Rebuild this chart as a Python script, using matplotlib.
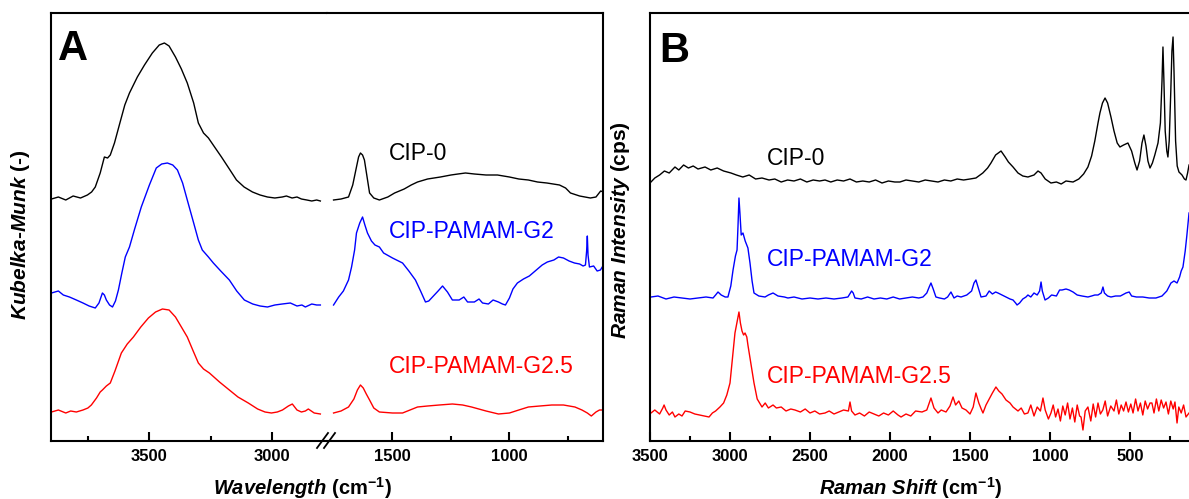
import numpy as np
import matplotlib
matplotlib.use('Agg')
import matplotlib.pyplot as plt
from matplotlib.lines import Line2D

plt.rcParams['font.family'] = ['Liberation Sans', 'DejaVu Sans']
plt.rcParams['mathtext.fontset'] = 'custom'
plt.rcParams['mathtext.rm'] = 'Liberation Sans'
plt.rcParams['mathtext.bf'] = 'Liberation Sans:bold'
plt.rcParams['mathtext.it'] = 'Liberation Sans:italic'
plt.rcParams['mathtext.bfit'] = 'Liberation Sans:italic:bold'

# ---- panel A: DRIFT (Kubelka-Munk), values in arbitrary units ----
ir_cip0 = np.array([
    (3898, 242), (3870, 244), (3840, 241), (3810, 245), (3780, 243), (3752, 246), (3735, 249),
    (3720, 254), (3700, 268), (3683, 284), (3670, 283), (3659, 286), (3642, 298), (3620, 318),
    (3600, 336), (3581, 348), (3549, 364), (3520, 376), (3488, 388), (3460, 396), (3439, 398),
    (3420, 395), (3394, 384), (3370, 372), (3346, 358), (3320, 338), (3301, 318), (3280, 308),
    (3260, 303), (3235, 294), (3207, 284), (3175, 272), (3146, 261), (3115, 254), (3081, 249),
    (3050, 246), (3020, 244), (2990, 243), (2960, 244), (2943, 245), (2920, 243), (2900, 244),
    (2882, 242), (2860, 241), (2840, 240), (2820, 241), (2805, 240),
    (1752, 241), (1720, 242), (1688, 244), (1670, 256), (1654, 274), (1645, 284), (1637, 288),
    (1628, 286), (1620, 281), (1610, 266), (1598, 248), (1580, 243), (1556, 241), (1520, 244),
    (1491, 248), (1450, 252), (1420, 256), (1393, 259), (1350, 262), (1295, 264), (1250, 266),
    (1220, 267), (1188, 268), (1150, 267), (1100, 266), (1051, 266), (1000, 264), (960, 262),
    (919, 261), (880, 259), (840, 258), (786, 256), (760, 253), (739, 248), (700, 245),
    (654, 243), (630, 244), (610, 250), (598, 249)])

ir_g2 = np.array([
    (3898, 148), (3870, 150), (3850, 146), (3825, 144), (3797, 141), (3770, 138), (3745, 135),
    (3720, 133), (3705, 138), (3691, 148), (3683, 146), (3675, 141), (3662, 136), (3650, 134),
    (3638, 140), (3626, 151), (3612, 168), (3598, 184), (3581, 194), (3560, 212), (3533, 234),
    (3500, 256), (3472, 273), (3450, 277), (3427, 278), (3405, 276), (3386, 271), (3365, 258),
    (3346, 241), (3320, 218), (3301, 201), (3285, 191), (3260, 184), (3240, 178), (3210, 170),
    (3175, 161), (3145, 150), (3114, 141), (3080, 137), (3050, 135), (3020, 134), (2990, 136),
    (2960, 137), (2927, 138), (2900, 135), (2880, 136), (2866, 134), (2840, 137), (2820, 136),
    (2805, 136),
    (1752, 136), (1730, 144), (1710, 150), (1688, 161), (1675, 174), (1662, 191), (1654, 208),
    (1640, 218), (1628, 224), (1618, 216), (1607, 208), (1590, 200), (1575, 196), (1556, 194),
    (1538, 188), (1500, 183), (1457, 178), (1430, 170), (1402, 161), (1380, 150), (1359, 139),
    (1345, 140), (1329, 144), (1305, 150), (1286, 155), (1265, 149), (1244, 141), (1215, 141),
    (1195, 144), (1179, 139), (1150, 139), (1130, 142), (1115, 138), (1090, 137), (1070, 141),
    (1047, 139), (1030, 137), (1017, 136), (1000, 143), (985, 152), (966, 158), (940, 162),
    (915, 165), (885, 171), (860, 176), (838, 179), (810, 181), (790, 184), (769, 183),
    (745, 180), (722, 178), (700, 177), (685, 175), (675, 176), (670, 190), (667, 205),
    (664, 186), (658, 174), (640, 175), (625, 170), (611, 171), (598, 176)])

ir_g25 = np.array([
    (3898, 29), (3870, 31), (3840, 28), (3820, 30), (3797, 29), (3770, 31), (3750, 33),
    (3736, 36), (3715, 43), (3700, 49), (3691, 51), (3675, 55), (3659, 58), (3640, 70),
    (3614, 88), (3590, 97), (3565, 104), (3535, 114), (3504, 123), (3475, 129), (3447, 132),
    (3420, 131), (3394, 124), (3370, 114), (3346, 104), (3322, 90), (3301, 78), (3280, 72),
    (3256, 68), (3215, 59), (3175, 51), (3140, 44), (3098, 38), (3060, 32), (3030, 29),
    (3004, 28), (2980, 29), (2959, 31), (2935, 35), (2919, 37), (2900, 31), (2882, 29),
    (2866, 30), (2854, 32), (2830, 28), (2805, 27),
    (1752, 28), (1720, 30), (1688, 34), (1665, 42), (1650, 51), (1637, 56), (1625, 53),
    (1612, 47), (1598, 41), (1580, 33), (1556, 29), (1500, 28), (1457, 28), (1425, 31),
    (1393, 34), (1350, 35), (1300, 36), (1244, 37), (1200, 36), (1162, 34), (1100, 30),
    (1047, 27), (1000, 28), (960, 31), (919, 34), (870, 35), (819, 36), (769, 36), (720, 34),
    (690, 31), (667, 28), (650, 25), (630, 29), (615, 31), (598, 31)])

# ---- panel B: Raman, values in arbitrary units ----
ra_cip0 = np.array([
    (3494, 259), (3470, 263), (3440, 266), (3410, 270), (3380, 268), (3344, 274), (3320, 271),
    (3290, 276), (3260, 273), (3230, 275), (3200, 272), (3156, 274), (3120, 271), (3080, 273),
    (3040, 270), (2994, 268), (2960, 266), (2920, 264), (2880, 266), (2840, 262), (2800, 263),
    (2756, 261), (2720, 262), (2680, 259), (2640, 261), (2600, 260), (2560, 262), (2520, 259),
    (2480, 261), (2440, 260), (2406, 261), (2370, 259), (2330, 261), (2290, 260), (2250, 262),
    (2210, 259), (2170, 260), (2130, 259), (2090, 261), (2050, 258), (2010, 260), (1970, 259),
    (1938, 259), (1900, 261), (1860, 260), (1820, 259), (1780, 261), (1740, 260), (1700, 259),
    (1660, 261), (1620, 260), (1580, 262), (1540, 261), (1500, 262), (1463, 263), (1420, 268),
    (1390, 273), (1369, 278), (1340, 286), (1306, 290), (1280, 284), (1260, 279), (1231, 274),
    (1200, 268), (1170, 265), (1138, 264), (1100, 266), (1075, 270), (1056, 268), (1030, 262),
    (994, 258), (960, 259), (930, 257), (900, 260), (856, 259), (820, 262), (790, 267),
    (763, 274), (740, 285), (720, 300), (700, 318), (688, 328), (672, 338), (656, 343),
    (640, 338), (619, 324), (600, 310), (580, 298), (563, 294), (540, 296), (513, 298),
    (490, 290), (470, 278), (456, 271), (440, 280), (425, 298), (413, 306), (400, 295),
    (388, 280), (375, 273), (360, 278), (345, 286), (325, 298), (310, 318), (300, 360),
    (294, 394), (288, 360), (280, 310), (270, 290), (263, 284), (255, 300), (245, 350),
    (238, 390), (231, 404), (225, 370), (215, 300), (205, 275), (194, 269), (175, 266),
    (160, 262), (150, 261), (140, 268), (131, 276)])

ra_g2 = np.array([
    (3494, 144), (3450, 145), (3400, 142), (3350, 144), (3300, 143), (3250, 142), (3200, 143),
    (3150, 144), (3106, 143), (3090, 146), (3075, 149), (3055, 146), (3030, 144), (3013, 144),
    (2995, 155), (2981, 171), (2966, 185), (2956, 191), (2950, 215), (2944, 243), (2938, 228),
    (2930, 206), (2919, 208), (2905, 200), (2888, 193), (2875, 178), (2862, 160), (2850, 148),
    (2820, 145), (2781, 144), (2760, 146), (2731, 148), (2700, 145), (2660, 144), (2638, 143),
    (2600, 144), (2550, 142), (2500, 143), (2450, 142), (2400, 143), (2350, 142), (2300, 143),
    (2263, 144), (2240, 150), (2230, 148), (2219, 143), (2180, 142), (2140, 144), (2100, 142),
    (2060, 143), (2020, 142), (1980, 144), (1940, 142), (1900, 143), (1860, 144), (1820, 143),
    (1794, 144), (1770, 148), (1755, 154), (1744, 158), (1730, 152), (1713, 144), (1690, 143),
    (1660, 142), (1640, 144), (1619, 149), (1600, 143), (1580, 145), (1556, 144), (1520, 146),
    (1490, 150), (1475, 158), (1463, 161), (1450, 154), (1431, 144), (1400, 145), (1380, 150),
    (1360, 147), (1340, 149), (1325, 148), (1300, 146), (1275, 144), (1250, 142), (1231, 141),
    (1215, 138), (1206, 136), (1190, 138), (1170, 142), (1150, 144), (1138, 146), (1120, 144),
    (1100, 148), (1080, 146), (1065, 150), (1056, 159), (1048, 150), (1031, 141), (1010, 143),
    (990, 146), (960, 145), (940, 151), (925, 151), (900, 152), (880, 151), (856, 149),
    (830, 146), (800, 145), (763, 144), (740, 145), (720, 146), (700, 146), (680, 148),
    (669, 154), (660, 148), (640, 145), (619, 144), (590, 145), (560, 145), (525, 148),
    (505, 149), (490, 145), (460, 144), (420, 144), (380, 143), (338, 143), (300, 145),
    (270, 150), (244, 158), (225, 160), (206, 158), (190, 164), (180, 170), (169, 174),
    (155, 190), (145, 205), (131, 228)])

ra_g25 = np.array([
    (3494, 28), (3470, 31), (3440, 27), (3420, 33), (3412, 36), (3400, 31), (3380, 26),
    (3360, 29), (3344, 24), (3320, 27), (3300, 25), (3280, 30), (3250, 29), (3220, 27),
    (3190, 26), (3160, 25), (3131, 24), (3110, 28), (3090, 30), (3063, 34), (3040, 38),
    (3020, 46), (3000, 58), (2985, 82), (2969, 108), (2955, 120), (2944, 129), (2935, 118),
    (2925, 110), (2915, 106), (2906, 108), (2895, 104), (2888, 96), (2870, 78), (2850, 58),
    (2830, 42), (2800, 34), (2780, 38), (2760, 33), (2731, 36), (2710, 33), (2680, 34),
    (2650, 30), (2620, 32), (2594, 31), (2560, 29), (2530, 32), (2500, 28), (2470, 30),
    (2440, 27), (2406, 28), (2380, 30), (2350, 27), (2320, 29), (2290, 31), (2260, 30),
    (2250, 39), (2240, 30), (2219, 26), (2190, 28), (2160, 25), (2130, 29), (2100, 27),
    (2070, 25), (2040, 28), (2010, 26), (1980, 30), (1950, 26), (1931, 24), (1900, 27),
    (1870, 25), (1840, 30), (1800, 29), (1770, 31), (1744, 43), (1725, 33), (1700, 28),
    (1680, 31), (1650, 29), (1625, 35), (1606, 44), (1590, 36), (1570, 40), (1550, 33),
    (1525, 31), (1500, 27), (1480, 34), (1463, 48), (1445, 38), (1430, 32), (1419, 28),
    (1400, 36), (1380, 42), (1360, 48), (1338, 54), (1320, 50), (1300, 47), (1275, 41),
    (1250, 38), (1231, 34), (1200, 30), (1180, 33), (1160, 27), (1138, 28), (1120, 36),
    (1100, 25), (1080, 34), (1060, 30), (1044, 43), (1030, 31), (1010, 22), (994, 28),
    (980, 36), (965, 24), (950, 32), (935, 20), (920, 35), (905, 26), (890, 38), (875, 22),
    (860, 33), (845, 19), (830, 36), (815, 25), (806, 24), (794, 11), (780, 30), (763, 34),
    (745, 20), (730, 37), (715, 24), (700, 38), (685, 27), (670, 31), (655, 40), (640, 25),
    (620, 35), (600, 30), (585, 41), (570, 27), (555, 36), (540, 30), (525, 39), (510, 29),
    (495, 37), (481, 28), (465, 42), (450, 30), (435, 38), (420, 26), (405, 40), (390, 32),
    (375, 38), (363, 38), (350, 28), (335, 42), (320, 30), (305, 41), (290, 33), (275, 39),
    (260, 27), (245, 40), (230, 32), (219, 39), (206, 18), (195, 34), (180, 28), (165, 36),
    (150, 24), (131, 28)])

names = ['CIP-0', 'CIP-PAMAM-G2', 'CIP-PAMAM-G2.5']
colors = ['black', '#0000ff', '#ff0000']

W, H = 1189, 499
fig = plt.figure(figsize=(W / 100, H / 100), dpi=100)


def box(x0, x1, y0=13, y1=441):
    return [x0 / W, 1 - y1 / H, (x1 - x0) / W, (y1 - y0) / H]


axL = fig.add_axes(box(51, 327))
axR = fig.add_axes(box(327, 603))
axB = fig.add_axes(box(650, 1194))

axL.set_xlim(3900, 2778)
axR.set_xlim(1780, 600)
axB.set_xlim(3500, 100)

for ax in (axL, axR, axB):
    ax.set_ylim(0, 428)
    ax.set_yticks([])
    for s in ax.spines.values():
        s.set_linewidth(1.5)
    ax.tick_params(axis='x', which='both', direction='in', width=1.5, pad=6,
                   labelsize=12)
    ax.tick_params(axis='x', which='major', length=6.5)
    ax.tick_params(axis='x', which='minor', length=3.5)
    for lab in ax.get_xticklabels(which='both'):
        lab.set_fontweight('bold')

axL.spines['right'].set_visible(False)
axR.spines['left'].set_visible(False)

axL.set_xticks([3500, 3000])
axL.set_xticks([3750, 3250], minor=True)
axR.set_xticks([1500, 1000])
axR.set_xticks([1250, 750], minor=True)
axB.set_xticks(np.arange(3500, 499, -500))
axB.set_xticks(np.arange(3250, 249, -500), minor=True)
for ax in (axL, axR, axB):
    for lab in ax.get_xticklabels():
        lab.set_fontweight('bold')

# curves
for data, c in zip([ir_cip0, ir_g2, ir_g25], colors):
    hi = data[:, 0] >= 2800
    axL.plot(data[hi, 0], data[hi, 1], color=c, lw=1.0)
    axR.plot(data[~hi, 0], data[~hi, 1], color=c, lw=1.0)

for data, c in zip([ra_cip0, ra_g2, ra_g25], colors):
    axB.plot(data[:, 0], data[:, 1], color=c, lw=1.0)

# series labels
for y, n, c in zip([281, 203, 68], names, colors):
    axR.text(1517, y, n, color=c, fontsize=16.5, va='baseline', ha='left')
for y, n, c in zip([276, 175, 58], names, colors):
    axB.text(2769, y, n, color=c, fontsize=16.5, va='baseline', ha='left')

# axis break marks
for dx in (0, 7):
    fig.add_artist(Line2D([(317 + dx) / W, (328 + dx) / W],
                          [1 - 448 / H, 1 - 433 / H], color='black', lw=1.3))

# panel letters
fig.text(58 / W, 1 - 60 / H, 'A', fontsize=30, fontweight='bold', va='baseline')
fig.text(659 / W, 1 - 62 / H, 'B', fontsize=30, fontweight='bold', va='baseline')

# axis labels
fig.text(302 / W, 1 - 495 / H, r'$\mathbfit{Wavelength}$ (cm$^{\mathbf{-1}}$)',
         fontsize=14.5, fontweight='bold', ha='center', va='baseline')
fig.text(911 / W, 1 - 495 / H, r'$\mathbfit{Raman\ Shift}$ (cm$^{\mathbf{-1}}$)',
         fontsize=14.5, fontweight='bold', ha='center', va='baseline')
fig.text(21 / W, 1 - 235 / H, r'$\mathbfit{Kubelka}$-$\mathbfit{Munk}$ (-)',
         fontsize=15, fontweight='bold', rotation=90, ha='center', va='center')
fig.text(620 / W, 1 - 230 / H, r'$\mathbfit{Raman\ Intensity}$ (cps)',
         fontsize=15, fontweight='bold', rotation=90, ha='center', va='center')

fig.savefig('out.png', dpi=100)
